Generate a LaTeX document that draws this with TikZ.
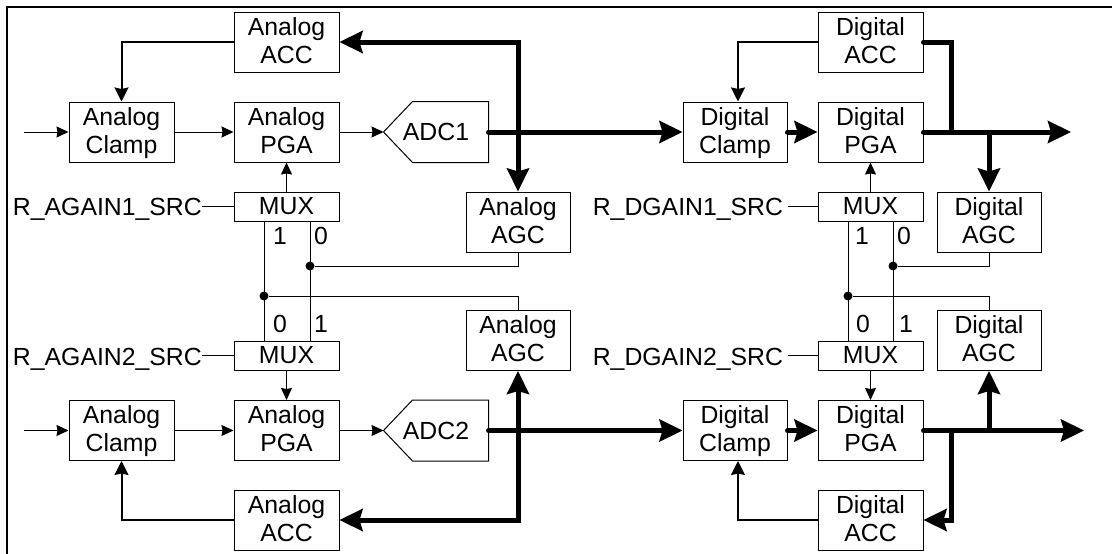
\documentclass[tikz,border=0pt]{standalone}
\usepackage{fontspec}
\setmainfont{Liberation Sans}
\usetikzlibrary{arrows.meta,calc}
\newcommand\fs{\fontsize{24.8pt}{28.3pt}\selectfont}
\newcommand\tl[2]{\rule{0pt}{23pt}#1\\#2\rule[-8.7pt]{0pt}{8.7pt}}
\tikzset{
 blk/.style={draw, line width=1pt, minimum width=105pt, minimum height=60pt, inner sep=0pt, align=center, font=\fs},
 muxbox/.style={draw, line width=1pt, minimum width=105pt, minimum height=29pt, inner sep=0pt, font=\fs},
 txt/.style={inner sep=0pt, font=\fs},
 thin/.style={line width=1pt},
 thinarr/.style={line width=1pt, -{Stealth[length=12pt,width=11pt,inset=1pt]}},
 medarr/.style={line width=2pt, -{Stealth[length=14pt,width=14pt,inset=1.5pt]}},
 bus/.style={line width=5pt},
 busarr/.style={line width=5pt, -{Stealth[length=23pt,width=22pt,inset=3pt]}},
 busboth/.style={line width=5pt, {Stealth[length=23pt,width=22pt,inset=3pt]}-{Stealth[length=23pt,width=22pt,inset=3pt]}},
 jdot/.style={circle, fill, inner sep=0pt, minimum size=9pt},
}
\begin{document}
\begin{tikzpicture}[x=1pt,y=-1pt]
\useasboundingbox (0,0) rectangle (1112,554);
\draw[line width=2pt] (1112,7) -- (7,7) -- (7,554);

% ---------- analog, channel 1
\node[blk] (aacc1) at (286.5,42) {\tl{Analog}{ACC}};
\node[blk] (aclamp1) at (121.5,132) {\tl{Analog}{Clamp}};
\node[blk] (apga1) at (286.5,132) {\tl{Analog}{PGA}};
\node[blk, draw=none, minimum width=104pt] (adc1) at (436,132) {ADC1};
\draw[line width=1pt] (adc1.west) -- ([xshift=29pt]adc1.north west) -- (adc1.north east) -- (adc1.south east) -- ([xshift=29pt]adc1.south west) -- cycle;
\node[muxbox] (amux1) at (286.5,206.5) {MUX};
\node[blk, minimum width=104pt] (aagc1) at (518,222) {\tl{Analog}{AGC}};
\node[txt, anchor=base east] (asrc1) at (202,215) {R\_AGAIN1\_SRC};

% ---------- analog, channel 2
\node[muxbox] (amux2) at (286.5,355.5) {MUX};
\node[blk, minimum width=104pt] (aagc2) at (518,340.5) {\tl{Analog}{AGC}};
\node[txt, anchor=base east] (asrc2) at (202,365) {R\_AGAIN2\_SRC};
\node[blk] (aclamp2) at (121.5,430.5) {\tl{Analog}{Clamp}};
\node[blk] (apga2) at (286.5,430.5) {\tl{Analog}{PGA}};
\node[blk, draw=none, minimum width=104pt] (adc2) at (436,430.5) {ADC2};
\draw[line width=1pt] (adc2.west) -- ([xshift=29pt]adc2.north west) -- (adc2.north east) -- (adc2.south east) -- ([xshift=29pt]adc2.south west) -- cycle;
\node[blk] (aacc2) at (286.5,520) {\tl{Analog}{ACC}};

% mux select network (analog)
\coordinate (xa) at (264,0);
\coordinate (xb) at (310,0);
\node[jdot] (d1) at (310,266) {};
\node[jdot] (d2) at (264,296) {};
\draw[thin] (amux1.south -| xa) -- (amux2.north -| xa);
\draw[thin] (amux1.south -| xb) -- (amux2.north -| xb);
\draw[thin] (aagc1.south) |- (d1);
\draw[thin] (aagc2.north) |- (d2);
\node[txt] (la1) at (280,236) {1};
\node[txt] (la0) at (321,236) {0};
\node[txt] (lb0) at (280,324) {0};
\node[txt] (lb1) at (321,324) {1};
\draw[thin] (asrc1.east |- amux1.west) -- (amux1.west);
\draw[thin] (asrc2.east |- amux2.west) -- (amux2.west);

% analog connectors
\coordinate (ain1) at (24,132);
\coordinate (ain2) at (24,430.5);
\draw[thinarr] (ain1) -- (aclamp1.west);
\draw[thinarr] (aclamp1.east) -- (apga1.west);
\draw[thinarr] (apga1.east) -- (adc1.west);
\draw[thinarr] (amux1.north) -- (apga1.south);
\draw[thinarr] (ain2) -- (aclamp2.west);
\draw[thinarr] (aclamp2.east) -- (apga2.west);
\draw[thinarr] (apga2.east) -- (adc2.west);
\draw[thinarr] (amux2.south) -- (apga2.north);
\draw[medarr] (aacc1.west) -| (aclamp1.north);
\draw[medarr] (aacc2.west) -| (aclamp2.south);
\coordinate (ja1) at (518,42);
\coordinate (ja2) at (518,520);
\draw[busboth] (aacc1.east) -- (ja1) -- (aagc1.north);
\draw[busboth] (aacc2.east) -- (ja2) -- (aagc2.south);

% ---------- digital, channel 1
\node[blk] (dacc1) at (870.5,42) {\tl{Digital}{ACC}};
\node[blk, minimum width=104pt] (dclamp1) at (735,132) {\tl{Digital}{Clamp}};
\node[blk] (dpga1) at (870.5,132) {\tl{Digital}{PGA}};
\node[muxbox] (dmux1) at (870.5,206.5) {MUX};
\node[blk, minimum width=104pt] (dagc1) at (989,222) {\tl{Digital}{AGC}};
\node[txt, anchor=base east, outer xsep=5pt] (dsrc1) at (788,215) {R\_DGAIN1\_SRC};

% ---------- digital, channel 2
\node[muxbox] (dmux2) at (870.5,355.5) {MUX};
\node[blk, minimum width=104pt] (dagc2) at (989,340.5) {\tl{Digital}{AGC}};
\node[txt, anchor=base east, outer xsep=5pt] (dsrc2) at (788,365) {R\_DGAIN2\_SRC};
\node[blk, minimum width=104pt] (dclamp2) at (735,430.5) {\tl{Digital}{Clamp}};
\node[blk] (dpga2) at (870.5,430.5) {\tl{Digital}{PGA}};
\node[blk] (dacc2) at (870.5,520) {\tl{Digital}{ACC}};

% mux select network (digital)
\coordinate (xc) at (848,0);
\coordinate (xd) at (893,0);
\node[jdot] (d3) at (893,266) {};
\node[jdot] (d4) at (848,296) {};
\draw[thin] (dmux1.south -| xc) -- (dmux2.north -| xc);
\draw[thin] (dmux1.south -| xd) -- (dmux2.north -| xd);
\draw[thin] (dagc1.south) |- (d3);
\draw[thin] (dagc2.north) |- (d4);
\node[txt] (lc1) at (862,236) {1};
\node[txt] (lc0) at (904,236) {0};
\node[txt] (ld0) at (863,324) {0};
\node[txt] (ld1) at (906,324) {1};
\draw[thin] (dsrc1.east |- dmux1.west) -- (dmux1.west);
\draw[thin] (dsrc2.east |- dmux2.west) -- (dmux2.west);

% digital connectors
\draw[thinarr] (dmux1.north) -- (dpga1.south);
\draw[thinarr] (dmux2.south) -- (dpga2.north);
\draw[medarr] (dacc1.west) -| ([xshift=3pt]dclamp1.north);
\draw[medarr] (dacc2.west) -| ([xshift=3pt]dclamp2.south);

% buses
\draw[busarr, line cap=round] (adc1.east) -- (dclamp1.west);
\draw[busarr, line cap=round] (adc2.east) -- (dclamp2.west);
\draw[busarr, line cap=round] (dclamp1.east) -- (dpga1.west);
\draw[busarr, line cap=round] (dclamp2.east) -- (dpga2.west);
\coordinate (dout1) at (1071,132);
\coordinate (dout2) at (1084,430.5);
\draw[busarr, line cap=round] (dpga1.east) -- (dout1);
\draw[busarr, line cap=round] (dpga2.east) -- (dout2);
\coordinate (jd1) at (951,42);
\coordinate (jd2) at (951,520);
\draw[bus, line cap=round] (dacc1.east) -- (jd1) -- (jd1 |- dpga1.east);
\draw[busarr] (jd2 |- dpga2.east) -- (jd2) -- (dacc2.east);
\draw[busarr] (dagc1.north |- dpga1.east) -- (dagc1.north);
\draw[busarr] (dagc2.south |- dpga2.east) -- (dagc2.south);
\end{tikzpicture}
\end{document}
